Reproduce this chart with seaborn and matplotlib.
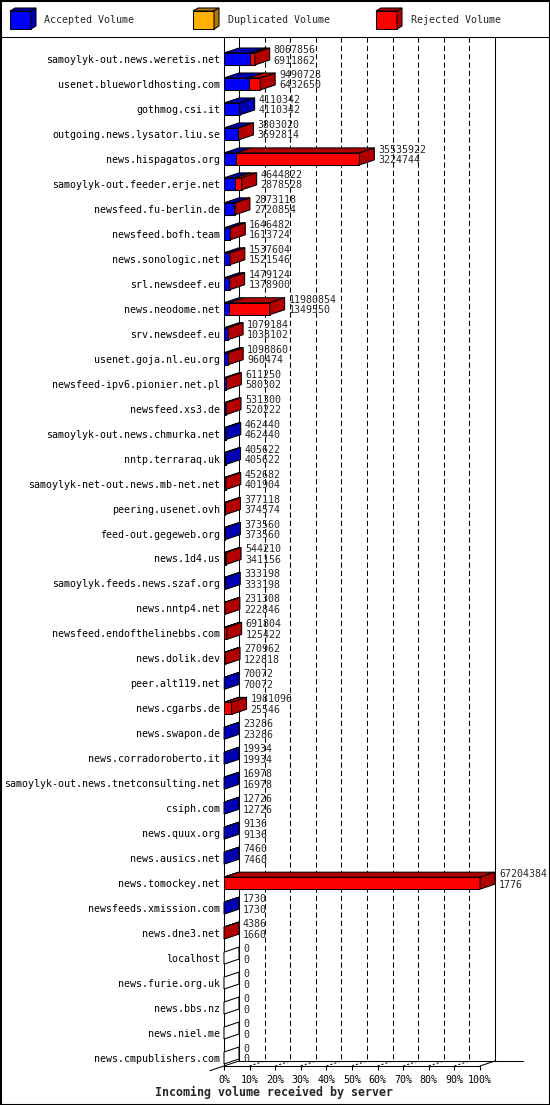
import matplotlib
matplotlib.use('Agg')
import matplotlib.pyplot as plt
import seaborn as sns
import pandas as pd
from matplotlib.patches import Polygon, Rectangle

# data: total offered volume and accepted volume per server
servers = [
    'samoylyk-out.news.weretis.net', 'usenet.blueworldhosting.com', 'gothmog.csi.it',
    'outgoing.news.lysator.liu.se', 'news.hispagatos.org', 'samoylyk-out.feeder.erje.net',
    'newsfeed.fu-berlin.de', 'newsfeed.bofh.team', 'news.sonologic.net', 'srl.newsdeef.eu',
    'news.neodome.net', 'srv.newsdeef.eu', 'usenet.goja.nl.eu.org',
    'newsfeed-ipv6.pionier.net.pl', 'newsfeed.xs3.de', 'samoylyk-out.news.chmurka.net',
    'nntp.terraraq.uk', 'samoylyk-net-out.news.mb-net.net', 'peering.usenet.ovh',
    'feed-out.gegeweb.org', 'news.1d4.us', 'samoylyk.feeds.news.szaf.org', 'news.nntp4.net',
    'newsfeed.endofthelinebbs.com', 'news.dolik.dev', 'peer.alt119.net', 'news.cgarbs.de',
    'news.swapon.de', 'news.corradoroberto.it', 'samoylyk-out.news.tnetconsulting.net',
    'csiph.com', 'news.quux.org', 'news.ausics.net', 'news.tomockey.net',
    'newsfeeds.xmission.com', 'news.dne3.net', 'localhost', 'news.furie.org.uk',
    'news.bbs.nz', 'news.niel.me', 'news.cmpublishers.com',
]
total = [
    8067856, 9490728, 4110342, 3803020, 35535922, 4644822, 2873118, 1646482, 1537604,
    1479124, 11980854, 1079184, 1098860, 611250, 531300, 462440, 405622, 452682, 377118,
    373560, 544210, 333198, 231308, 691804, 270962, 70072, 1981096, 23286, 19934, 16978,
    12726, 9136, 7460, 67204384, 1730, 4386, 0, 0, 0, 0, 0,
]
accepted = [
    6911862, 6432650, 4110342, 3692814, 3224744, 2878528, 2720854, 1613724, 1521546,
    1378900, 1349550, 1038102, 960474, 580302, 520222, 462440, 405622, 401904, 374574,
    373560, 341156, 333198, 222846, 125422, 122818, 70072, 25546, 23286, 19934, 16978,
    12726, 9136, 7460, 1776, 1730, 1660, 0, 0, 0, 0, 0,
]
pct_ticks = list(range(0, 101, 10))
legend_labels = ['Accepted Volume', 'Duplicated Volume', 'Rejected Volume']

BLUE, BLUE_D = '#0000ff', '#0000b2'
ORANGE, ORANGE_D = '#ffb000', '#b27b00'
RED, RED_D = '#ff0000', '#b20000'

sns.set_theme(style='white')
plt.rcParams['font.family'] = ['DejaVu Sans Mono']
FS = 7.2

df = pd.DataFrame({'server': servers, 'total': total, 'accepted': accepted})
scale = df['total'].max()
df['total_pct'] = df['total'] / scale * 100
df['acc_pct'] = df['accepted'] / scale * 100

W, H = 550, 1105
fig = plt.figure(figsize=(W / 100, H / 100), dpi=100)
bg = fig.add_axes([0, 0, 1, 1])
bg.set_xlim(0, W)
bg.set_ylim(H, 0)
bg.axis('off')

# pixel geometry of the plot
sx = 256 / 100          # px per percent
sy = 24.975             # px per row
ddx = 15 / sx           # depth in x (data units)
ddy = 5 / sy            # depth in y (rows)
bh = 12 / sy            # bar front height
y_top = (37 - 59) / sy
y_bot = (1066 - 59) / sy

ax = fig.add_axes([224 / W, (H - 1066) / H, 256 / W, (1066 - 37) / H])
sns.barplot(data=df, y='server', x='total_pct', order=servers, color=RED, saturation=1,
            edgecolor='black', linewidth=0.75, width=bh, errorbar=None, ax=ax, zorder=3)
sns.barplot(data=df, y='server', x='acc_pct', order=servers, color=BLUE, saturation=1,
            edgecolor='black', linewidth=0.75, width=bh, errorbar=None, ax=ax, zorder=3)

# 3D top and side faces
for i, row in df.iterrows():
    t, a = row['total_pct'], row['acc_pct']
    y0, y1 = i - bh / 2, i + bh / 2
    if a > 0:
        ax.add_patch(Polygon([(0, y0), (a, y0), (a + ddx, y0 - ddy), (ddx, y0 - ddy)],
                             fc=BLUE_D, ec='black', lw=0.75, zorder=3, clip_on=False))
    if t > a:
        ax.add_patch(Polygon([(a, y0), (t, y0), (t + ddx, y0 - ddy), (a + ddx, y0 - ddy)],
                             fc=RED_D, ec='black', lw=0.75, zorder=3, clip_on=False))
    side = 'white' if row['total'] == 0 else (RED_D if t > a else BLUE_D)
    ax.add_patch(Polygon([(t, y0), (t, y1), (t + ddx, y1 - ddy), (t + ddx, y0 - ddy)],
                         fc=side, ec='black', lw=0.75, zorder=3, clip_on=False))
    tx = t + ddx + 4 / sx
    ax.text(tx, i - 9 / sy, str(row['total']), fontsize=FS, va='center', ha='left', zorder=5)
    ax.text(tx, i + 1.5 / sy, str(row['accepted']), fontsize=FS, va='center', ha='left', zorder=5)

# back wall, grid and floor
ln = dict(color='black', lw=0.75, clip_on=False)
for p in pct_ticks[1:-1]:
    ax.plot([p + ddx, p + ddx], [y_top, y_bot - ddy], ls=(0, (5, 3)), zorder=1, **ln)
    ax.plot([p, p + ddx], [y_bot, y_bot - ddy], ls=(0, (2, 2)), zorder=1, **ln)
ax.plot([ddx, ddx], [y_top, y_bot - ddy], zorder=1, **ln)
ax.plot([100 + ddx, 100 + ddx], [y_top, y_bot - ddy], zorder=1, **ln)
ax.plot([ddx, (523 - 224) / sx], [y_bot - ddy, y_bot - ddy], zorder=1, **ln)
ax.plot([-14 / sx, ddx], [y_bot + 14 / 15 * ddy, y_bot - ddy], zorder=1, **ln)
ax.plot([100, 100 + ddx], [y_bot, y_bot - ddy], zorder=1, **ln)

ax.set_xlim(0, 100)
ax.set_ylim(y_bot, y_top)
ax.set_xticks(pct_ticks)
ax.set_xticklabels([f'{p}%' for p in pct_ticks], fontsize=FS)
ax.set_yticks(range(len(servers)))
ax.set_yticklabels(servers, fontsize=FS)
ax.tick_params(axis='x', length=3, width=0.75, pad=3.5, colors='black', direction='out', bottom=True)
ax.tick_params(axis='y', length=0, pad=2.9, colors='black')
ax.set_xlabel('')
ax.set_ylabel('')
ax.set_facecolor('none')
for s in ['top', 'right']:
    ax.spines[s].set_visible(False)
for s in ['left', 'bottom']:
    ax.spines[s].set_color('black')
    ax.spines[s].set_linewidth(0.75)

bg.text(274, 1092, 'Incoming volume received by server', fontsize=8.4, fontweight='bold',
        ha='center', va='center')

# legend with little cubes
for x, tx, fc, dc, lab in zip([10, 193, 376], [44.5, 227.7, 411],
                              [BLUE, ORANGE, RED], [BLUE_D, ORANGE_D, RED_D], legend_labels):
    bg.add_patch(Rectangle((x, 11), 21, 18, fc=fc, ec='black', lw=0.75))
    bg.add_patch(Polygon([(x, 11), (x + 21, 11), (x + 26, 8), (x + 5, 8)], fc=dc, ec='black', lw=0.75))
    bg.add_patch(Polygon([(x + 21, 11), (x + 21, 29), (x + 26, 26), (x + 26, 8)], fc=dc, ec='black', lw=0.75))
    bg.text(tx, 20, lab, fontsize=FS, va='center', ha='left')

bg.plot([0, W], [36.5, 36.5], color='black', lw=0.75)
bg.add_patch(Rectangle((0.5, 0.5), W - 1, H - 1, fill=False, ec='black', lw=1.5))

fig.savefig('out.png', dpi=100)
